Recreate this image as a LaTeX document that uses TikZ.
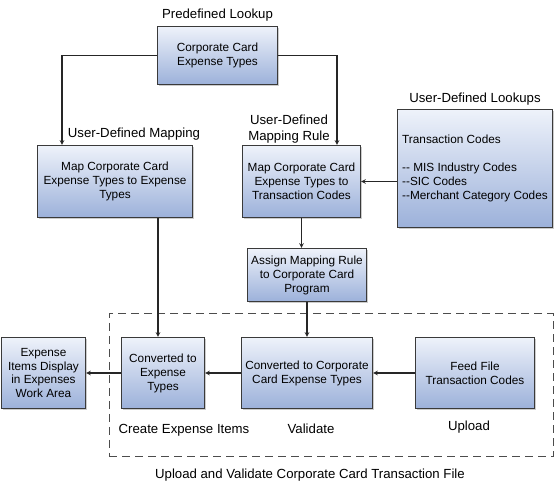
\documentclass[tikz,border=0pt]{standalone}
\usepackage{fontspec}
\setmainfont{Liberation Sans}
\usepackage{tikz}
\usetikzlibrary{shapes,arrows,positioning,shadows,calc}

\definecolor{boxtop}{HTML}{EEF2FA}
\definecolor{boxbot}{HTML}{9CB1DA}
\definecolor{boxline}{HTML}{3A3A3A}
\newcommand{\dashdash}{-\kern0pt-}

\begin{document}
\begin{tikzpicture}[
    x=1pt, y=-1pt,
    box/.style={rectangle, draw=boxline, line width=1.2pt, top color=boxtop, bottom color=boxbot, drop shadow={shadow xshift=1.8pt, shadow yshift=-1.8pt, fill=black!40}, inner sep=1pt, align=center, font=\fontsize{11.8}{14}\selectfont},
    lbl/.style={align=center, font=\fontsize{13.2}{16}\selectfont, inner sep=1pt},
    arrow/.style={->, >=stealth, line width=1.1pt, draw=black!85},
    group/.style={rectangle, draw=black!70, line width=1pt, dash pattern=on 8pt off 5pt, minimum width=444pt, minimum height=143pt}
]
\useasboundingbox (0,0) rectangle (558,494);

% Upload and Validate
\node[group] (upload) at (331,385.5) {};

% Mapping setup
\node[box, minimum width=120pt, minimum height=58pt, label={[lbl, label distance=3pt]above:Predefined Lookup}] (corp) at (217.5,55.5) {Corporate Card\\Expense Types};
\node[box, minimum width=155pt, minimum height=72pt] (mapET) at (115,181.5) {Map Corporate Card\\Expense Types to Expense\\Types};
\node[box, minimum width=118pt, minimum height=72pt] (mapTC) at (301.5,181.5) {Map Corporate Card\\Expense Types to\\Transaction Codes};
\node[box, align=left, minimum width=155pt, minimum height=118pt, label={[lbl, label distance=2.5pt]above:User-Defined Lookups}] (lookups) at (475,168.5) {Transaction Codes\\[14pt]\dashdash{} MIS Industry Codes\\\dashdash SIC Codes\\\dashdash Merchant Category Codes};
\node[box, minimum width=119pt, minimum height=53pt] (assign) at (307,275) {Assign Mapping Rule\\to Corporate Card\\Program};

\node[lbl, anchor=base] (mapLbl) at (134,137.5) {User-Defined Mapping};
\node[lbl] (ruleLbl) at (289,129.5) {User-Defined\\Mapping Rule};

% Transaction flow
\node[box, minimum width=84pt, minimum height=71pt] (display) at (43.5,373) {Expense\\Items Display\\in Expenses\\Work Area};
\node[box, minimum width=83pt, minimum height=71pt] (convET) at (163,373) {Converted to\\Expense\\Types};
\node[box, minimum width=131pt, minimum height=71pt] (convCC) at (307,373) {Converted to Corporate\\Card Expense Types};
\node[box, minimum width=119pt, minimum height=71pt] (feed) at (475,373) {Feed File\\Transaction Codes};

\node[lbl, anchor=base] (createLbl) at (184,434) {Create Expense Items};
\node[lbl, anchor=base] (validateLbl) at (311,434) {Validate};
\node[lbl, anchor=base] (uploadLbl) at (469,430.5) {Upload};
\node[lbl, anchor=base] (fileLbl) at (310,479) {Upload and Validate Corporate Card Transaction File};

% Connections
\draw[arrow] (corp.west) -| ([xshift=-53pt]mapET.north);
\draw[arrow] (corp.east) -| ([xshift=35.5pt]mapTC.north);
\draw[arrow] (lookups.west |- mapTC.east) -- (mapTC.east);
\draw[arrow] (mapTC.south) -- (mapTC.south |- assign.north);
\draw[arrow] (assign) -- (convCC);
\draw[arrow] ([xshift=43pt]mapET.south) -- ([xshift=43pt]mapET.south |- convET.north);
\draw[arrow] (feed) -- (convCC);
\draw[arrow] (convCC) -- (convET);
\draw[arrow] (convET) -- (display);

\end{tikzpicture}
\end{document}
